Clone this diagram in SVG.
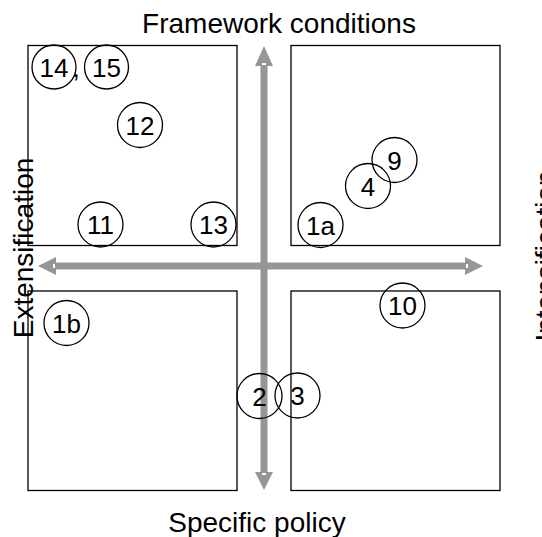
<svg xmlns="http://www.w3.org/2000/svg" width="542" height="537" viewBox="0 0 542 537">
<style>
.box{fill:none;stroke:#000;stroke-width:1.3}
.arrow{fill:#969696}
.dash{fill:#fff}
.c{fill:none;stroke:#000;stroke-width:1.3}
.n{font-family:"Liberation Sans",Arial,sans-serif;font-size:26px;fill:#000;text-anchor:middle}
.lbl{font-family:"Liberation Sans",Arial,sans-serif;font-size:28px;fill:#000;text-anchor:middle}
</style>
<rect width="542" height="537" fill="#fff"/>
<g id="quadrants">
<rect class="box" x="28" y="45.5" width="209" height="200"/>
<rect class="box" x="291" y="45.5" width="209" height="200"/>
<rect class="box" x="28" y="291" width="209" height="199.5"/>
<rect class="box" x="291" y="291" width="209" height="199.5"/>
</g>
<g id="connectors">
<path class="arrow" d="M260.5 66 H255 L264 46 L273 66 H267.5 V472 H273 L264 490 L255 472 H260.5 Z"/>
<path class="arrow" d="M56 262.5 V257 L38 266 L56 275 V269.5 H465 V275 L483 266 L465 257 V262.5 Z"/>
<rect class="dash" x="262" y="63" width="4" height="2"/>
<rect class="dash" x="262" y="473" width="4" height="2"/>
<rect class="dash" x="53" y="264" width="2" height="4"/>
<rect class="dash" x="466" y="264" width="2" height="4"/>
</g>
<g id="axis-labels">
<text class="lbl" x="279" y="33">Framework conditions</text>
<text class="lbl" x="257" y="532">Specific policy</text>
<text class="lbl" transform="translate(33 248) rotate(-90)">Extensification</text>
<text class="lbl" transform="translate(555 256) rotate(-90)">Intensification</text>
</g>
<g id="node-14"><circle class="c" cx="54" cy="67" r="22"/><text class="n" x="54" y="76.5">14</text></g>
<text class="n" x="76" y="77">,</text>
<g id="node-15"><circle class="c" cx="106.5" cy="67" r="22"/><text class="n" x="106.5" y="76.5">15</text></g>
<g id="node-12"><circle class="c" cx="140" cy="125" r="22.5"/><text class="n" x="140" y="134.5">12</text></g>
<g id="node-11"><circle class="c" cx="100.5" cy="224.5" r="22.5"/><text class="n" x="100.5" y="234">11</text></g>
<g id="node-13"><circle class="c" cx="213.5" cy="224.5" r="22.5"/><text class="n" x="213.5" y="234">13</text></g>
<g id="node-1a"><circle class="c" cx="320.5" cy="225" r="22.5"/><text class="n" x="320.5" y="234.5">1a</text></g>
<g id="node-4"><circle class="c" cx="368" cy="186" r="22.5"/><text class="n" x="368" y="195.5">4</text></g>
<g id="node-9"><circle class="c" cx="394.5" cy="160" r="22.5"/><text class="n" x="394.5" y="169.5">9</text></g>
<g id="node-1b"><circle class="c" cx="66.5" cy="323" r="22.5"/><text class="n" x="66.5" y="332.5">1b</text></g>
<g id="node-2"><circle class="c" cx="259.5" cy="396" r="22.5"/><text class="n" x="259.5" y="405.5">2</text></g>
<g id="node-3"><circle class="c" cx="297.5" cy="395.5" r="22.5"/><text class="n" x="297.5" y="405">3</text></g>
<g id="node-10"><circle class="c" cx="402.5" cy="305.5" r="22.5"/><text class="n" x="402.5" y="315">10</text></g>
</svg>
